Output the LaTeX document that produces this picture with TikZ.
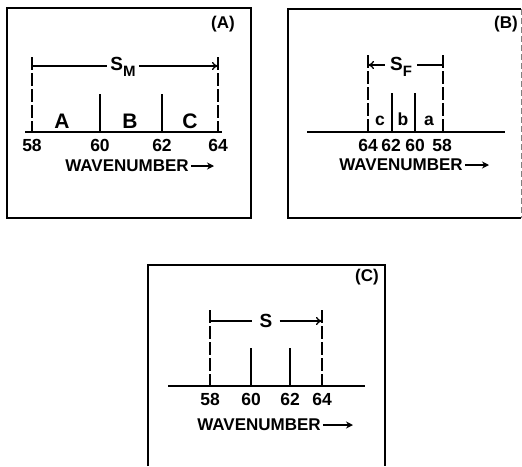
\documentclass[tikz,border=0pt]{standalone}
\usepackage{fontspec}
\setmainfont{Liberation Sans}
\usetikzlibrary{arrows.meta}
\begin{document}
\begin{tikzpicture}[x=1pt,y=-1pt,
  txt/.style={font=\fontsize{17}{17}\selectfont\bfseries, inner sep=0pt},
  num/.style={font=\fontsize{17.5}{17.5}\selectfont\bfseries, inner sep=0pt},
  big/.style={font=\fontsize{21}{21}\selectfont\bfseries, inner sep=0pt},
  sfont/.style={font=\fontsize{19}{19}\selectfont\bfseries, inner sep=0pt},
  frame/.style={line width=1.8pt},
  axis/.style={line width=1.6pt},
  dline/.style={line width=1.7pt, dash pattern=on 13pt off 3pt},
  sline/.style={line width=1.7pt},
  dim/.style={line width=1.3pt},
  tip/.style={-{To[length=6pt,width=8pt]}},
  wtip/.style={line width=1.8pt,-{Stealth[length=7pt,width=7pt]}}
]
\useasboundingbox (0,0) rectangle (522,466);
% ---------------- Panel A ----------------
\draw[frame] (7,8) rectangle (251,218);
\node[txt] (labA) at (223,24) {(A)};
\coordinate (aL) at (32,132); \coordinate (aR) at (218,132);
\draw[axis] (25,132) -- (222,132);
\coordinate (aLt) at (32,57); \coordinate (aRt) at (218,57);
\draw[dline] (aLt) -- (aL);
\draw[dline] (aRt) -- (aR);
\draw[sline] (100,94) -- (100,132);
\draw[sline] (162,94) -- (162,132);
\node[sfont, inner xsep=3pt] (sA) at (123,67) {S\raisebox{-6pt}{\fontsize{15}{15}\selectfont M}};
\coordinate (aA1) at (32,66); \coordinate (aA2) at (218,66);
\draw[dim] (aA1) -- (sA.west |- aA1);
\draw[dim,tip] (sA.east |- aA2) -- (aA2);
\node[big] (A1) at (62,121) {A};
\node[big] (A2) at (130,121) {B};
\node[big] (A3) at (190,121) {C};
\node[num] (nA1) at (32,145) {58};
\node[num] (nA2) at (100,145) {60};
\node[num] (nA3) at (162,145) {62};
\node[num] (nA4) at (218,145) {64};
\node[txt] (wA) at (127,166) {WAVENUMBER};
\coordinate (wAe) at (214,166);
\draw[wtip] ([xshift=2pt]wA.east) -- (wAe);
% ---------------- Panel B ----------------
\draw[frame] (521,9) -- (288,9) -- (288,218) -- (521,218);
\draw[line width=1pt, gray, dash pattern=on 6pt off 3pt] (521,9) -- (521,218);
\node[txt] (labB) at (506,24) {(B)};
\draw[axis] (307,132) -- (505,132);
\coordinate (bL) at (368,132); \coordinate (bR) at (443,132);
\coordinate (bLt) at (368,55); \coordinate (bRt) at (443,55);
\draw[dline] (bLt) -- (bL);
\draw[dline] (bRt) -- (bR);
\draw[sline] (392,93) -- (392,132);
\draw[sline] (415,93) -- (415,132);
\node[sfont, inner xsep=5pt] (sB) at (401,67) {S\raisebox{-6pt}{\fontsize{15}{15}\selectfont F}};
\coordinate (bA1) at (368,65); \coordinate (bA2) at (443,65);
\draw[dim,tip] (sB.west |- bA1) -- (bA1);
\draw[dim] (sB.east |- bA2) -- (bA2);
\node[num] (B1) at (380,121) {c};
\node[num] (B2) at (403,119) {b};
\node[num] (B3) at (429,121) {a};
\node[num] (nB1) at (368,145) {64};
\node[num] (nB2) at (391,145) {62};
\node[num] (nB3) at (415,145) {60};
\node[num] (nB4) at (442,145) {58};
\node[txt] (wB) at (401,165) {WAVENUMBER};
\coordinate (wBe) at (489,165);
\draw[wtip] ([xshift=2pt]wB.east) -- (wBe);
% ---------------- Panel C ----------------
\draw[frame] (148,466) -- (148,265) -- (385,265) -- (385,466);
\node[txt] (labC) at (367,277) {(C)};
\draw[axis] (168,386) -- (365,386);
\coordinate (cL) at (210,386); \coordinate (cR) at (322,386);
\coordinate (cLt) at (210,310); \coordinate (cRt) at (322,310);
\draw[dline] (cLt) -- (cL);
\draw[dline] (cRt) -- (cR);
\draw[sline] (251,348) -- (251,386);
\draw[sline] (290,348) -- (290,386);
\node[sfont, inner xsep=7pt] (sC) at (266,321) {S};
\coordinate (cA1) at (210,321); \coordinate (cA2) at (322,321);
\draw[dim] (cA1) -- (sC.west |- cA1);
\draw[dim,tip] (sC.east |- cA2) -- (cA2);
\node[num] (nC1) at (210,399) {58};
\node[num] (nC2) at (251,399) {60};
\node[num] (nC3) at (290,399) {62};
\node[num] (nC4) at (322,399) {64};
\node[txt] (wC) at (259,425) {WAVENUMBER};
\coordinate (wCe) at (353,425);
\draw[wtip] ([xshift=2pt]wC.east) -- (wCe);
\end{tikzpicture}
\end{document}
